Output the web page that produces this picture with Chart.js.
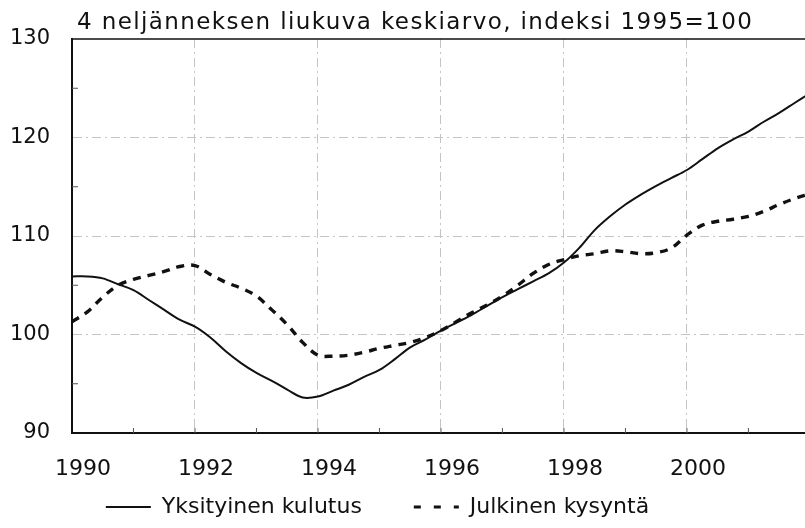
<!DOCTYPE html>
<html>
<head>
<meta charset="utf-8">
<script src="https://cdn.jsdelivr.net/npm/chart.js@4.4.0/dist/chart.umd.min.js"></script>
<style>
  body { margin: 0; background: #fff; }
</style>
</head>
<body>
<canvas id="kuvio" width="805" height="528"></canvas>
<script>
// neljännekset 1990Q1 - 2002Q1
const neljannekset = [1990.00, 1990.25, 1990.50, 1990.75, 1991.00, 1991.25, 1991.50, 1991.75,
  1992.00, 1992.25, 1992.50, 1992.75, 1993.00, 1993.25, 1993.50, 1993.75,
  1994.00, 1994.25, 1994.50, 1994.75, 1995.00, 1995.25, 1995.50, 1995.75,
  1996.00, 1996.25, 1996.50, 1996.75, 1997.00, 1997.25, 1997.50, 1997.75,
  1998.00, 1998.25, 1998.50, 1998.75, 1999.00, 1999.25, 1999.50, 1999.75,
  2000.00, 2000.25, 2000.50, 2000.75, 2001.00, 2001.25, 2001.50, 2001.75, 2002.00];

const yksityinenKulutus = [105.9, 105.9, 105.7, 105.1, 104.5, 103.5, 102.5, 101.5,
  100.8, 99.7, 98.3, 97.1, 96.1, 95.3, 94.4, 93.6,
  93.7, 94.3, 94.9, 95.7, 96.4, 97.5, 98.7, 99.5,
  100.4, 101.2, 102.0, 102.9, 103.8, 104.6, 105.4, 106.2,
  107.3, 108.8, 110.6, 112.0, 113.2, 114.2, 115.1, 115.9,
  116.7, 117.8, 118.9, 119.8, 120.6, 121.6, 122.5, 123.5, 124.5];

const julkinenKysynta = [101.3, 102.3, 103.8, 105.0, 105.6, 106.0, 106.4, 106.9,
  107.0, 106.1, 105.3, 104.7, 103.9, 102.5, 101.0, 99.2,
  97.9, 97.8, 97.9, 98.2, 98.6, 98.9, 99.2, 99.7,
  100.4, 101.3, 102.2, 103.0, 103.9, 105.0, 106.2, 107.1,
  107.6, 108.0, 108.2, 108.5, 108.4, 108.2, 108.3, 108.8,
  110.1, 111.1, 111.5, 111.7, 112.0, 112.5, 113.2, 113.8, 114.3];

const otsikko = "4 neljänneksen liukuva keskiarvo, indeksi 1995=100";
const sarjaNimet = ["Yksityinen kulutus", "Julkinen kysyntä"];
const vuosiLeimat = [1990, 1992, 1994, 1996, 1998, 2000];
const vuosiMerkit = [1991, 1992, 1993, 1994, 1995, 1996, 1997, 1998, 1999, 2000, 2001];
const arvoMerkit = [95, 105, 115, 125];

const fontti = '"DejaVu Sans", Arial, sans-serif';
Chart.defaults.font.family = fontti;
Chart.defaults.font.size = 22;
Chart.defaults.color = "#111";

const pisteet = (arvot) => arvot.map((v, i) => ({ x: neljannekset[i], y: v }));

// otsikko, kehyksen yläreuna ja pienet jakoviivat
const kehys = {
  id: "kehys",
  afterLayout(chart) {
    // selite hieman vasemmalle kuten alkuperäisessä
    chart.legend.left -= 50;
  },
  afterDraw(chart) {
    const { ctx, chartArea: a, scales: { x, y } } = chart;
    ctx.save();
    ctx.fillStyle = "#111";
    ctx.font = "23px " + fontti;
    ctx.textBaseline = "alphabetic";
    if ("letterSpacing" in ctx) ctx.letterSpacing = "1.4px";
    ctx.fillText(otsikko, 77, 29);
    if ("letterSpacing" in ctx) ctx.letterSpacing = "0px";

    ctx.strokeStyle = "#111";
    ctx.lineWidth = 1.5;
    ctx.beginPath();
    ctx.moveTo(a.left, a.top);
    ctx.lineTo(a.right, a.top);
    ctx.stroke();

    ctx.lineWidth = 1;
    ctx.strokeStyle = "#555";
    ctx.beginPath();
    vuosiMerkit.forEach(v => {
      const px = x.getPixelForValue(v);
      ctx.moveTo(px, a.bottom);
      ctx.lineTo(px, a.bottom - 5);
    });
    arvoMerkit.forEach(v => {
      const py = y.getPixelForValue(v);
      ctx.moveTo(a.left, py);
      ctx.lineTo(a.left + 6, py);
    });
    ctx.stroke();
    ctx.restore();
  }
};

new Chart(document.getElementById("kuvio"), {
  type: "line",
  data: {
    datasets: [
      {
        label: sarjaNimet[0],
        data: pisteet(yksityinenKulutus),
        borderColor: "#111",
        backgroundColor: "#111",
        borderWidth: 2,
        pointRadius: 0,
        tension: 0.35
      },
      {
        label: sarjaNimet[1],
        data: pisteet(julkinenKysynta),
        borderColor: "#111",
        backgroundColor: "#111",
        borderWidth: 3.4,
        borderDash: [8, 7],
        pointRadius: 0,
        tension: 0.35
      }
    ]
  },
  options: {
    responsive: false,
    animation: false,
    layout: { padding: { top: 39, right: 0, left: 0, bottom: 0 } },
    scales: {
      x: {
        type: "linear",
        min: 1990,
        max: 2001.92,
        afterBuildTicks: (s) => { s.ticks = vuosiLeimat.map(v => ({ value: v })); },
        afterFit: (s) => { s.height = 53; },
        ticks: {
          padding: 23,
          labelOffset: 11,
          color: "#111",
          font: { size: 22 },
          callback: (v) => String(v)
        },
        grid: {
          drawTicks: false,
          color: (c) => (c.tick && c.tick.value > 1990 ? "#c4c4c4" : "rgba(0,0,0,0)"),
          lineWidth: 1
        },
        border: { color: "#111", width: 2, dash: [9, 4, 2, 4] }
      },
      y: {
        min: 90,
        max: 130,
        afterFit: (s) => { s.width = 72; },
        ticks: { stepSize: 10, padding: 22, color: "#111", font: { size: 21 } },
        grid: {
          drawTicks: false,
          color: (c) => (c.tick && c.tick.value > 90 && c.tick.value < 130 ? "#c4c4c4" : "rgba(0,0,0,0)"),
          lineWidth: 1
        },
        border: { color: "#111", width: 2, dash: [9, 4, 2, 4] }
      }
    },
    plugins: {
      title: { display: false },
      tooltip: { enabled: false },
      legend: {
        position: "bottom",
        labels: {
          usePointStyle: true,
          pointStyle: "line",
          pointStyleWidth: 45,
          padding: 10,
          color: "#111",
          font: { size: 22 },
          // väli selitteiden välille ja katkoviiva selitteeseen
          generateLabels: (chart) => {
            const items = Chart.defaults.plugins.legend.labels.generateLabels(chart);
            items[0].text += "\u00a0".repeat(6);
            items[0].lineWidth = 2;
            items[0].lineDash = [];
            items[1].lineWidth = 3;
            items[1].lineDash = [7, 13];
            return items;
          }
        }
      }
    }
  },
  plugins: [kehys]
});
</script>
</body>
</html>
